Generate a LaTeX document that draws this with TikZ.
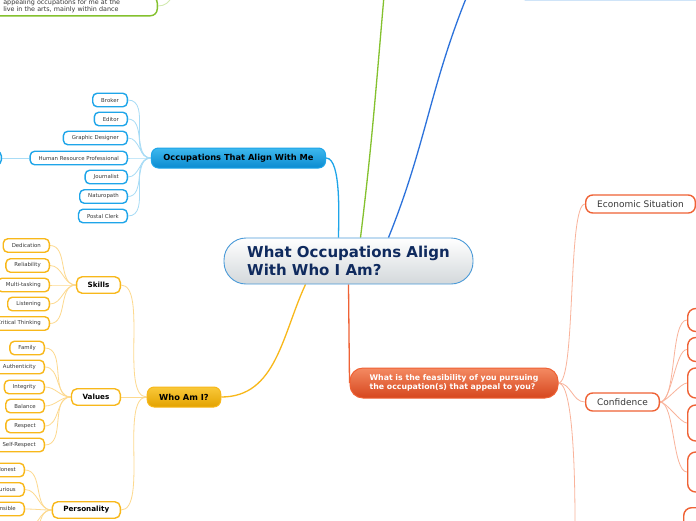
\documentclass[tikz,border=0pt]{standalone}
\usepackage{fontspec}
\setmainfont{DejaVu Sans}
\usetikzlibrary{backgrounds}
\definecolor{rootline}{HTML}{4A9AD8}
\definecolor{rootink}{HTML}{0F2A5E}
\definecolor{rootlow}{HTML}{D3D8DB}
\definecolor{cyanline}{HTML}{1EA5E9}
\definecolor{cyantop}{HTML}{3DB8EE}
\definecolor{cyanlow}{HTML}{0C8BD0}
\definecolor{cyanthin}{HTML}{A8DCF6}
\definecolor{goldline}{HTML}{F8B81A}
\definecolor{goldtop}{HTML}{F9C93A}
\definecolor{goldlow}{HTML}{E3A200}
\definecolor{goldthin}{HTML}{FDD98E}
\definecolor{redline}{HTML}{EF6235}
\definecolor{redtop}{HTML}{F48A62}
\definecolor{redlow}{HTML}{D6461D}
\definecolor{redthin}{HTML}{F9B39B}
\definecolor{greenline}{HTML}{84C12E}
\definecolor{greenthin}{HTML}{D2EAB0}
\definecolor{blueline}{HTML}{2C72DB}
\definecolor{paleblue}{HTML}{B6D7F5}
\definecolor{leafink}{HTML}{383838}
\tikzset{
  centraltopic/.style={
    draw = rootline,
    line width = 0.9pt,
    top color = white,
    bottom color = rootlow,
    rounded corners = 22pt,
    minimum width = 249pt,
    minimum height = 46pt,
    align = left,
    text = rootink,
    font = \fontsize{15}{17.5}\selectfont\bfseries
  },
  branchbox/.style={
    line width = 1pt,
    rounded corners = 7pt,
    minimum height = 20pt,
    inner xsep = 12pt,
    font = \fontsize{8.3}{10}\selectfont\bfseries
  },
  occbranch/.style={
    branchbox,
    draw = cyanline,
    top color = cyantop,
    bottom color = cyanlow
  },
  whobranch/.style={
    branchbox,
    draw = goldline,
    top color = goldtop,
    bottom color = goldlow
  },
  feasbranch/.style={
    draw = redline,
    line width = 1pt,
    top color = redtop,
    bottom color = redlow,
    rounded corners = 13pt,
    minimum width = 208pt,
    minimum height = 30pt,
    align = left,
    text = white,
    font = \fontsize{7.8}{8.6}\selectfont\bfseries
  },
  leafbox/.style={
    fill = white,
    line width = 1.4pt,
    rounded corners = 4.5pt,
    minimum height = 13.5pt,
    inner xsep = 8.5pt,
    inner ysep = 0pt,
    text = leafink,
    font = \fontsize{5.4}{6}\selectfont
  },
  cyanleaf/.style={leafbox, draw = cyanline},
  goldleaf/.style={leafbox, draw = goldline},
  goldsub/.style={
    draw = goldline,
    fill = white,
    line width = 1.4pt,
    rounded corners = 5.5pt,
    minimum height = 16.5pt,
    inner xsep = 11pt,
    font = \fontsize{7.2}{8}\selectfont\bfseries
  },
  redsub/.style={
    draw = redline,
    fill = white,
    line width = 1.4pt,
    rounded corners = 7pt,
    minimum height = 18pt,
    inner xsep = 11.5pt,
    text = leafink,
    font = \fontsize{9}{10}\selectfont
  },
  redbox/.style={
    draw = redline,
    fill = white,
    line width = 1.4pt,
    rounded corners = 8pt,
    minimum width = 40pt
  },
  greenbox/.style={
    draw = greenline,
    fill = white,
    line width = 1.4pt,
    rounded corners = 7pt,
    inner xsep = 4pt,
    inner ysep = 3pt,
    text width = 162pt,
    align = left,
    text = leafink,
    font = \fontsize{6.4}{7.4}\selectfont
  },
  palebox/.style={
    draw = paleblue,
    line width = 1pt,
    rounded corners = 2pt,
    minimum width = 200pt,
    minimum height = 20pt
  },
  thinlink/.style={line width = 0.8pt},
  mainlink/.style={line width = 1.3pt}
}
\begin{document}
\begin{tikzpicture}[x=1pt,y=1pt]
    \useasboundingbox (0,0) rectangle (696,-520);
    \begin{scope}[on background layer]
        \fill[white] (0,0) rectangle (696,-520);
    \end{scope}

    \node[centraltopic] (topic) at (348.5,-261) {What Occupations Align\\With Who I Am?};

    % branches running off the top edge
    \coordinate (greentop) at (384,4);
    \coordinate (bluetop) at (467,4);
    \coordinate (greenup) at (172,4);
    \node[greenbox,anchor=south east] (dance) at (158,-16.5) {\hspace*{12pt}appealing occupations for me at the\\\hspace*{12pt}live in the arts, mainly within dance};
    \node[palebox,anchor=south west] (topnote) at (523,-0.6) {};

    % occupations
    \node[occbranch] (occ) at (238.5,-158) {Occupations That Align With Me};
    \foreach \i/\y/\lbl in {1/100/Broker,2/119/Editor,3/138/Graphic Designer,4/158/Human Resource Professional,5/177/Journalist,6/196.5/Naturopath,7/216/Postal Clerk}{
        \node[cyanleaf,anchor=east] (job\i) at (128,-\y) {\lbl};
        \begin{scope}[on background layer]
            \draw[thinlink,cyanthin] (occ.west) to[out=180,in=0] (job\i.east);
        \end{scope}
    }
    \node[cyanleaf,anchor=east,minimum width=30pt] (jobmore) at (2,-158) {};

    % who am i
    \node[whobranch] (who) at (184,-397) {Who Am I?};
    \node[goldsub,anchor=east] (skills) at (121,-285) {Skills};
    \node[goldsub,anchor=east] (values) at (121,-397) {Values};
    \node[goldsub,anchor=east] (persona) at (121,-510) {Personality};
    \foreach \i/\y/\lbl in {1/245.5/Dedication,2/265.5/Reliability,3/285/Multi-tasking,4/304/Listening,5/323.5/Critical Thinking}{
        \node[goldleaf,anchor=east] (skill\i) at (50,-\y) {\lbl};
        \begin{scope}[on background layer]
            \draw[thinlink,goldthin] (skills.west) to[out=180,in=0] (skill\i.east);
        \end{scope}
    }
    \foreach \i/\y/\lbl in {1/348/Family,2/367/Authenticity,3/387/Integrity,4/406/Balance,5/426/Respect,6/445/Self-Respect}{
        \node[goldleaf,anchor=east] (value\i) at (45,-\y) {\lbl};
        \begin{scope}[on background layer]
            \draw[thinlink,goldthin] (values.west) to[out=180,in=0] (value\i.east);
        \end{scope}
    }
    \foreach \i/\y/\lbl in {1/470/Honest,2/489.5/Curious,3/509/Responsible}{
        \node[goldleaf,anchor=east] (trait\i) at (25,-\y) {\lbl};
        \begin{scope}[on background layer]
            \draw[thinlink,goldthin] (persona.west) to[out=180,in=0] (trait\i.east);
        \end{scope}
    }
    \coordinate (traitmore1) at (25,-530);
    \coordinate (traitmore2) at (25,-550);

    % feasibility
    \node[feasbranch] (feas) at (454,-383) {What is the feasibility of you pursuing\\the occupation(s) that appeal to you?};
    \node[redsub,anchor=west] (econ) at (585,-204) {Economic Situation};
    \node[redsub,anchor=west] (conf) at (585,-402) {Confidence};
    \coordinate (feasdown) at (575,-530);
    \foreach \i/\y/\h in {1/320/23,2/349.5/24,3/383/30,4/423/36,5/472/40}{
        \node[redbox,anchor=west,minimum height=\h pt] (doubt\i) at (687,-\y) {};
        \begin{scope}[on background layer]
            \draw[thinlink,redthin] (conf.east) to[out=0,in=180,looseness=0.5] (doubt\i.west);
        \end{scope}
    }
    \node[redbox,anchor=north west,minimum height=30pt] (lowbox) at (683,-507) {};

    \begin{scope}[on background layer]
        \draw[mainlink,cyanline] ([xshift=-10pt]topic.north) to[out=90,in=0,looseness=0.5] (occ.east);
        \draw[mainlink,greenline] ([xshift=12pt]topic.north) to[out=83,in=-95] (greentop);
        \draw[mainlink,blueline] ([xshift=40pt]topic.north) to[out=68,in=-112] (bluetop);
        \draw[mainlink,goldline] ([xshift=-43pt]topic.south) to[out=-115,in=0] (who.east);
        \draw[mainlink,redline] (topic.south) -- (feas.west);
        \draw[thinlink,greenthin] (dance.east) to[out=0,in=-110] (greenup);
        \draw[thinlink,cyanthin] (job4.west) -- (jobmore.east);
        \draw[thinlink,goldthin] (who.west) to[out=180,in=0,looseness=0.6] (skills.east);
        \draw[thinlink,goldthin] (who.west) -- (values.east);
        \draw[thinlink,goldthin] (who.west) to[out=180,in=0,looseness=0.6] (persona.east);
        \draw[thinlink,goldthin] (persona.west) to[out=180,in=0] (traitmore1);
        \draw[thinlink,goldthin] (persona.west) to[out=180,in=0] (traitmore2);
        \draw[thinlink,redthin] (feas.east) to[out=0,in=180,looseness=0.25] (econ.west);
        \draw[thinlink,redthin] (feas.east) to[out=0,in=180] (conf.west);
        \draw[thinlink,redthin] (feas.east) to[out=0,in=90,looseness=0.3] (feasdown);
    \end{scope}
\end{tikzpicture}
\end{document}
